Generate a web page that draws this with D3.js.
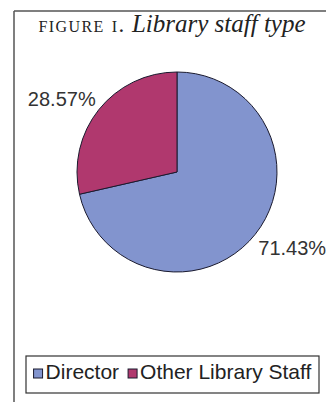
<!DOCTYPE html>
<html>
<head>
<meta charset="utf-8">
<script src="https://cdn.jsdelivr.net/npm/d3@7"></script>
<style>
  html, body { margin: 0; padding: 0; background: #fff; }
  svg { display: block; }
</style>
</head>
<body>
<svg id="chart" width="326" height="402"></svg>
<script>
// Staff categories and their shares (percent)
const categories = ["Director", "Other Library Staff"];
const shares = [71.43, 28.57];
const colors = ["#8294ce", "#b0386e"];

const W = 326, H = 402;
const svg = d3.select("#chart");

// Figure frame: top and left rules
svg.append("line").attr("x1", 14).attr("y1", 11).attr("x2", W).attr("y2", 11)
  .attr("stroke", "#555").attr("stroke-width", 1.5);
svg.append("line").attr("x1", 14).attr("y1", 11).attr("x2", 14).attr("y2", H)
  .attr("stroke", "#555").attr("stroke-width", 1.5);

// Caption
const title = svg.append("text")
  .attr("x", 172).attr("y", 32)
  .attr("text-anchor", "middle")
  .attr("font-family", "'Liberation Serif', 'DejaVu Serif', serif")
  .attr("fill", "#222");
title.append("tspan")
  .attr("font-size", 23)
  .attr("font-variant", "small-caps")
  .attr("letter-spacing", 1.4)
  .text("figure i.");
title.append("tspan")
  .attr("font-size", 25)
  .attr("font-style", "italic")
  .text(" Library staff type");

// Pie
const cx = 177, cy = 172, r = 100;
const data = categories.map((c, i) => ({ name: c, value: shares[i], color: colors[i] }));
const pie = d3.pie().sort(null).value(d => d.value).startAngle(0).endAngle(2 * Math.PI);
const arc = d3.arc().innerRadius(0).outerRadius(r);
const arcs = pie(data);

const g = svg.append("g").attr("transform", `translate(${cx},${cy})`);
g.selectAll("path").data(arcs).join("path")
  .attr("d", arc)
  .attr("fill", d => d.data.color)
  .attr("stroke", "#1a1a2e")
  .attr("stroke-width", 1);

// Value labels, anchored by their nearest corner just outside the rim
const labelR = 104;
g.selectAll("text.val").data(arcs).join("text")
  .attr("class", "val")
  .each(function(d) {
    const a = (d.startAngle + d.endAngle) / 2;
    const dx = Math.sin(a), dy = -Math.cos(a);
    const px = dx * labelR, py = dy * labelR;
    d3.select(this)
      .attr("x", px)
      .attr("y", dy < 0 ? py - 1 : py + 18)
      .attr("text-anchor", dx < 0 ? "end" : "start");
  })
  .attr("font-family", "'Liberation Sans', Arial, sans-serif")
  .attr("font-size", 20)
  .attr("fill", "#333")
  .text(d => d.data.value.toFixed(2) + "%");

// Legend
const legend = svg.append("g");
const box = { x: 26, y: 356, w: 293, h: 37 };
legend.append("rect")
  .attr("x", box.x).attr("y", box.y).attr("width", box.w).attr("height", box.h)
  .attr("fill", "#fff").attr("stroke", "#333").attr("stroke-width", 1.2);

const items = legend.selectAll("g.item").data(data).join("g").attr("class", "item");
items.append("rect")
  .attr("width", 9).attr("height", 9)
  .attr("fill", d => d.color)
  .attr("stroke", "#1a1a2e").attr("stroke-width", 1);
items.append("text")
  .attr("x", 12).attr("y", 10)
  .attr("font-family", "'Liberation Sans', Arial, sans-serif")
  .attr("font-size", 21)
  .attr("fill", "#222")
  .text(d => d.name);

// Lay the legend entries out in a row centred in the box
const gap = 9;
const widths = [];
items.each(function() { widths.push(this.getBBox().width); });
const total = d3.sum(widths) + gap * (widths.length - 1);
let xPos = box.x + (box.w - total) / 2;
items.each(function(d, i) {
  d3.select(this).attr("transform", `translate(${xPos},${box.y + 13})`);
  xPos += widths[i] + gap;
});
</script>
</body>
</html>
